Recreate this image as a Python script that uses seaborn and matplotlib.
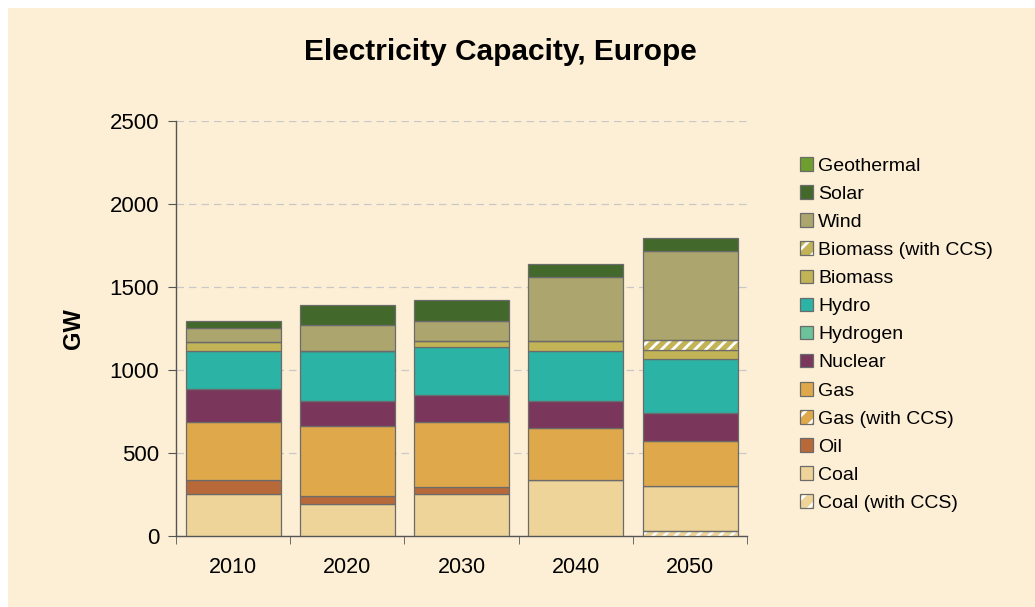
import matplotlib
matplotlib.use('Agg')
import matplotlib.pyplot as plt
from matplotlib.patches import Patch, Rectangle
import seaborn as sns
import numpy as np

years = ['2010', '2020', '2030', '2040', '2050']

# GW by technology, bottom of the stack first
coal_ccs = [0, 0, 0, 0, 28]
coal = [251, 191, 251, 335, 271]
oil = [84, 50, 42, 4, 0]
gas_ccs = [0, 0, 0, 0, 0]
gas = [351, 421, 393, 313, 275]
nuclear = [201, 153, 161, 161, 166]
hydrogen = [0, 0, 0, 0, 0]
hydro = [225, 297, 289, 299, 324]
biomass = [54, 0, 40, 64, 56]
biomass_ccs = [0, 0, 0, 0, 58]
wind = [86, 156, 120, 385, 538]
solar = [44, 125, 125, 76, 78]
geothermal = [0, 0, 0, 0, 0]

layers = [
    ('Coal (with CCS)', coal_ccs, '#EFD49A', True),
    ('Coal', coal, '#EFD49A', False),
    ('Oil', oil, '#B8693A', False),
    ('Gas (with CCS)', gas_ccs, '#DFA84A', True),
    ('Gas', gas, '#DFA84A', False),
    ('Nuclear', nuclear, '#7B365C', False),
    ('Hydrogen', hydrogen, '#6CC39B', False),
    ('Hydro', hydro, '#2BB3A6', False),
    ('Biomass', biomass, '#C2B356', False),
    ('Biomass (with CCS)', biomass_ccs, '#C2B356', True),
    ('Wind', wind, '#ADA56E', False),
    ('Solar', solar, '#43682B', False),
    ('Geothermal', geothermal, '#6E9E2F', False),
]

bg = '#FDEFD5'
edge = '#6B6B6B'

sns.set_style('ticks')
plt.rcParams['font.family'] = ['Liberation Sans', 'DejaVu Sans']
plt.rcParams['text.color'] = 'black'
plt.rcParams['axes.labelcolor'] = 'black'
plt.rcParams['xtick.labelcolor'] = 'black'
plt.rcParams['ytick.labelcolor'] = 'black'
plt.rcParams['hatch.linewidth'] = 2.0

fig = plt.figure(figsize=(10.35, 6.07), dpi=100, facecolor='white')
fig.patches.append(Rectangle((8 / 1035, 0), 1, 1 - 8 / 607, transform=fig.transFigure,
                             facecolor=bg, edgecolor='none', zorder=-10))
ax = fig.add_axes([0.170, 0.117, 0.552, 0.684])
ax.set_facecolor(bg)

bottom = np.zeros(len(years))
for name, vals, color, hatched in layers:
    vals = np.array(vals, dtype=float)
    if vals.sum() == 0:
        continue
    if hatched:
        sns.barplot(x=years, y=vals, bottom=bottom, color=color, edgecolor='white',
                    linewidth=0, hatch='///', width=0.83, saturation=1, ax=ax, zorder=3)
        sns.barplot(x=years, y=vals, bottom=bottom, color=edge, fill=False,
                    linewidth=0.9, width=0.83, ax=ax, zorder=4)
    else:
        sns.barplot(x=years, y=vals, bottom=bottom, color=color, edgecolor=edge,
                    linewidth=0.9, width=0.83, saturation=1, ax=ax, zorder=3)
    bottom += vals

ax.set_xlim(-0.5, 4.5)
ax.set_ylim(0, 2500)
ax.set_yticks(range(0, 2501, 500))
ax.yaxis.grid(True, color='#C8C8C8', linestyle=(0, (6, 4)), linewidth=0.9, zorder=0)
ax.set_axisbelow(True)
sns.despine(ax=ax)
for s in ['left', 'bottom']:
    ax.spines[s].set_color('#555555')
    ax.spines[s].set_linewidth(1.0)

ax.tick_params(axis='x', which='major', length=0, labelsize=15.5, pad=15)
ax.set_xticks(np.arange(-0.5, 4.6, 1.0), minor=True)
ax.tick_params(axis='x', which='minor', length=6, color='#555555', direction='out')
ax.tick_params(axis='y', length=6, color='#555555', labelsize=16, pad=6)

ax.set_xlabel('')
ax.set_ylabel('GW', fontsize=17, fontweight='bold', labelpad=18)
fig.text(0.483, 0.915, 'Electricity Capacity, Europe', ha='center', va='center',
         fontsize=21.5, fontweight='bold')

handles = []
labels = []
for name, vals, color, hatched in layers[::-1]:
    if hatched:
        h = (Patch(facecolor=color, edgecolor='white', hatch='//', linewidth=0),
             Patch(facecolor='none', edgecolor=edge, linewidth=0.9))
    else:
        h = Patch(facecolor=color, edgecolor=edge, linewidth=0.9)
    handles.append(h)
    labels.append(name)

leg = fig.legend(handles, labels, loc='upper left', bbox_to_anchor=(0.765, 0.754),
                 frameon=False, fontsize=14, handlelength=0.7, handleheight=0.7,
                 handletextpad=0.25, labelspacing=0.54, borderaxespad=0)

fig.savefig('out.png', dpi=100, facecolor=fig.get_facecolor())
